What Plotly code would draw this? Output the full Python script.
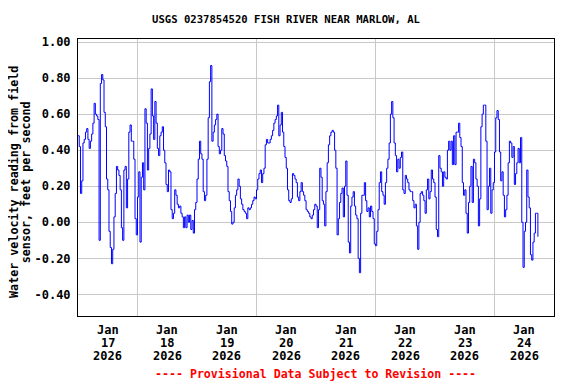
import pandas as pd
import plotly.graph_objects as go

# Half-hourly readings starting 2026-01-17 00:00 (feet per second)
velocity = [
    0.48, 0.42, 0.16, 0.23, 0.44, 0.46, 0.50, 0.52, 0.46, 0.41,
    0.45, 0.49, 0.55, 0.66, 0.60, 0.59, 0.57, -0.10, 0.77, 0.82,
    0.79, 0.61, 0.53, 0.24, 0.18, -0.05, -0.14, -0.23, -0.15, 0.03,
    0.16, 0.31, 0.29, 0.26, 0.18, -0.03, -0.10, 0.29, 0.31, 0.08,
    0.24, 0.50, 0.54, 0.45, 0.45, 0.35, 0.02, -0.07, 0.14, 0.28,
    -0.11, 0.25, 0.33, 0.18, 0.63, 0.55, 0.29, 0.41, 0.49, 0.74,
    0.59, 0.46, 0.67, 0.55, 0.41, 0.37, 0.48, 0.50, 0.53, 0.40,
    0.33, 0.21, 0.17, 0.29, 0.28, 0.07, 0.02, 0.05, 0.18, 0.15,
    0.10, 0.08, 0.09, 0.05, 0.03, -0.03, 0.03, -0.03, 0.04, 0.00,
    0.04, -0.04, 0.01, -0.06, 0.07, 0.11, 0.24, 0.35, 0.45, 0.38,
    0.35, 0.17, 0.12, 0.15, 0.35, 0.58, 0.78, 0.87, 0.45, 0.50,
    0.54, 0.57, 0.60, 0.42, 0.38, 0.40, 0.52, 0.49, 0.37, 0.34,
    0.31, 0.17, 0.12, 0.06, -0.01, 0.00, 0.08, 0.15, 0.18, 0.24,
    0.20, 0.13, 0.10, 0.07, 0.06, 0.05, 0.02, 0.08, 0.07, 0.08,
    0.10, 0.12, 0.14, 0.13, 0.18, 0.24, 0.27, 0.29, 0.22, 0.27,
    0.30, 0.43, 0.46, 0.44, 0.44, 0.46, 0.48, 0.51, 0.55, 0.57,
    0.59, 0.65, 0.48, 0.54, 0.61, 0.50, 0.42, 0.36, 0.30, 0.18,
    0.12, 0.11, 0.13, 0.27, 0.26, 0.24, 0.22, 0.14, 0.12, 0.17,
    0.22, 0.17, 0.15, 0.12, 0.07, 0.06, 0.05, 0.03, 0.02, 0.04,
    0.07, 0.10, 0.09, -0.03, 0.07, 0.30, 0.25, 0.12, 0.10, -0.02,
    0.17, 0.33, 0.43, 0.48, 0.50, 0.51, 0.50, 0.40, 0.30, -0.07,
    0.02, 0.11, 0.16, 0.19, 0.03, 0.20, 0.34, 0.15, -0.11, -0.17,
    0.09, 0.14, 0.17, 0.09, 0.04, 0.02, -0.20, -0.28, 0.05, 0.15,
    0.15, 0.22, 0.12, 0.06, 0.08, 0.03, 0.09, 0.06, 0.02, -0.12,
    -0.13, -0.05, 0.07, 0.22, 0.28, 0.17, 0.15, 0.10, 0.22, 0.30,
    0.35, 0.44, 0.60, 0.67, 0.58, 0.44, 0.37, 0.28, 0.35, 0.30,
    0.36, 0.39, 0.18, 0.16, 0.26, 0.24, 0.22, 0.18, 0.17, 0.17,
    0.12, 0.08, 0.10, -0.02, -0.15, 0.00, 0.16, 0.17, 0.15, 0.12,
    0.05, 0.18, 0.24, 0.13, 0.17, 0.29, 0.24, 0.22, 0.14, -0.04,
    -0.08, 0.37, 0.30, 0.28, 0.20, 0.28, 0.25, 0.24, 0.40, 0.45,
    0.40, 0.45, 0.32, 0.48, 0.32, 0.50, 0.50, 0.55, 0.47, 0.42,
    0.22, 0.15, 0.18, 0.05, -0.06, 0.11, 0.20, 0.31, 0.11, 0.35,
    0.33, 0.24, 0.20, -0.02, 0.13, 0.53, 0.60, 0.65, 0.65, 0.45,
    0.07, 0.20, 0.30, 0.05, 0.18, 0.22, 0.39, 0.58, 0.62, 0.57,
    0.39, 0.23, 0.28, 0.15, 0.03, 0.07, 0.15, 0.33, 0.45, 0.44,
    0.36, 0.42, 0.21, 0.27, 0.33, 0.41, 0.33, 0.47, 0.00, -0.25,
    -0.05, 0.00, 0.29, 0.14, 0.08, -0.18, -0.21, -0.11, -0.06, 0.05,
    0.05, -0.08,
]
start_time = "2026-01-17 00:00"
label_days = ["2026-01-17 12:00", "2026-01-18 12:00", "2026-01-19 12:00",
              "2026-01-20 12:00", "2026-01-21 12:00", "2026-01-22 12:00",
              "2026-01-23 12:00", "2026-01-24 12:00"]
label_month = ["Jan"] * 8
label_daynum = ["17", "18", "19", "20", "21", "22", "23", "24"]
label_year = ["2026"] * 8
y_ticks = [-0.4, -0.2, 0.0, 0.2, 0.4, 0.6, 0.8, 1.0]
y_labels = ["-0.40", "-0.20", "0.00", "0.20", "0.40", "0.60", "0.80", "1.00"]

times = pd.date_range(start_time, periods=len(velocity), freq="30min")

FONT = "DejaVu Sans Mono"
PLOT_H = 277.0

fig = go.Figure()
fig.add_trace(go.Scatter(x=times, y=velocity, mode="lines",
                         line=dict(color="#0000FF", width=1, shape="hv"),
                         hoverinfo="skip", showlegend=False))

annotations = []
for rows, ypix in ((label_month, 330), (label_daynum, 343), (label_year, 355.7)):
    for d, txt in zip(label_days, rows):
        annotations.append(dict(
            text="<b>%s</b>" % txt, xref="x", yref="paper", x=d,
            y=(316 - ypix) / PLOT_H, xanchor="center", yanchor="middle",
            showarrow=False, font=dict(family=FONT, size=12, color="black")))

annotations += [
    dict(text="<b>Water velocity reading from field</b>", textangle=-90,
         xref="paper", yref="paper", x=(14 - 78) / 476, y=0.484,
         xanchor="center", yanchor="middle", showarrow=False, borderpad=0,
         font=dict(family=FONT, size=11.7, color="black")),
    dict(text="<b>sensor, feet per second</b>", textangle=-90,
         xref="paper", yref="paper", x=(26.3 - 78) / 476, y=0.484,
         xanchor="center", yanchor="middle", showarrow=False, borderpad=0,
         font=dict(family=FONT, size=11.7, color="black")),
    dict(text="<b>---- Provisional Data Subject to Revision ----</b>",
         xref="paper", yref="paper", x=0.499, y=(316 - 374.3) / PLOT_H,
         xanchor="center", yanchor="middle", showarrow=False,
         font=dict(family=FONT, size=11.6, color="#FF0000")),
]

fig.update_layout(
    width=576, height=384,
    margin=dict(l=70, r=30, t=31, b=76),
    paper_bgcolor="white", plot_bgcolor="white",
    font=dict(family=FONT, color="black", size=12, weight="bold"),
    title=dict(text="<b>USGS 0237854520 FISH RIVER NEAR MARLOW, AL</b>",
               x=278 / 576, xref="container", xanchor="center",
               y=1 - 11 / 384, yref="container", yanchor="middle",
               font=dict(family=FONT, size=10.6, color="black")),
    xaxis=dict(
        range=["2026-01-17 00:00", "2026-01-25 00:00"],
        showticklabels=False,
        showgrid=False, ticks="", zeroline=False,
        showline=True, mirror=True, linecolor="black", linewidth=1,
        minor=dict(dtick=86400000, tick0="2026-01-17", showgrid=True,
                   gridcolor="#C8C8C8", gridwidth=1, ticks=""),
    ),
    yaxis=dict(
        range=[-0.52, 1.017],
        tickmode="array", tickvals=y_ticks, ticktext=y_labels,
        showgrid=True, gridcolor="#C8C8C8", gridwidth=1, ticks="",
        zeroline=False, ticklabelstandoff=4,
        showline=True, mirror=True, linecolor="black", linewidth=1,
        tickfont=dict(family=FONT, size=12, color="black", weight="bold"),
    ),
    annotations=annotations,
)

fig.write_html("out.html")
